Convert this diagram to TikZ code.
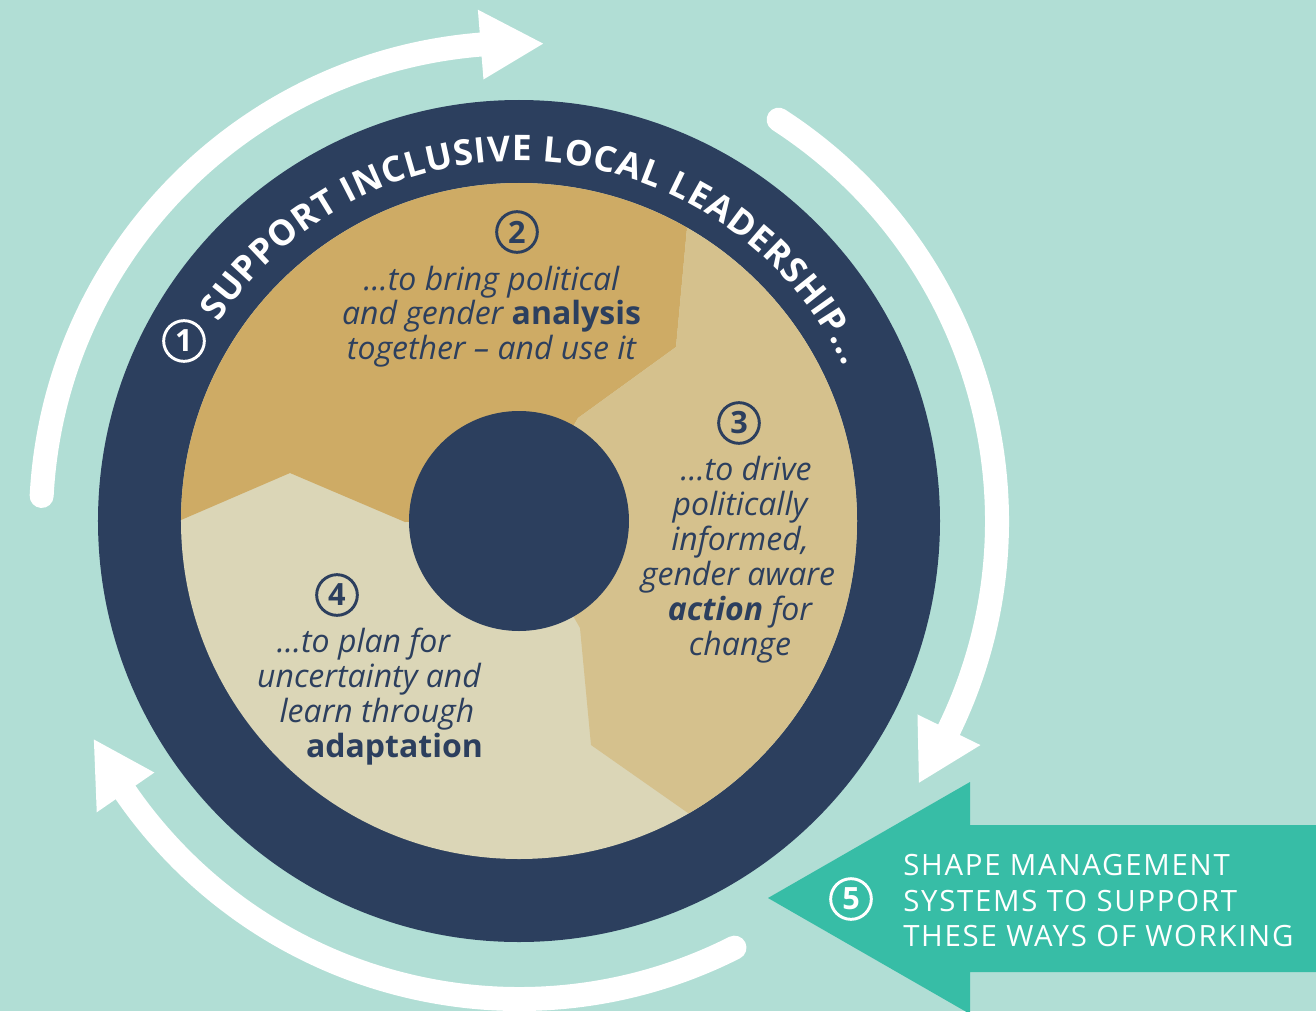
\documentclass[tikz,border=0pt]{standalone}
\usepackage{fontspec}
\setmainfont{Open Sans}
\usetikzlibrary{decorations.text}
\definecolor{bgteal}{HTML}{B1DED5}
\definecolor{navy}{HTML}{2C3F5E}
\definecolor{tanDark}{HTML}{CEAB65}
\definecolor{tanMid}{HTML}{D5C18D}
\definecolor{tanLight}{HTML}{DBD6B7}
\definecolor{mgmtTeal}{HTML}{37BDA6}
\begin{document}
\begin{tikzpicture}[x=0.75pt,y=0.75pt,
  loop/.style={white,line width=18pt,line cap=round},
  num/.style={circle,draw,line width=2.2pt,inner sep=0pt,minimum size=30.5pt,font=\bfseries\fontsize{23}{23}\selectfont},
  blurb/.style={navy,anchor=base,inner sep=0pt,font=\itshape\fontsize{24}{26}\selectfont}]
  \useasboundingbox (-519,-490) rectangle (797,521);
  \fill[bgteal] (-519,-490) rectangle (797,521);
  \coordinate (c) at (0,0);
  \foreach \a/\b/\t in {177/94.6/87.1, 57.1/-25.9/-33.2, -63.2/-145.4/-152.8} {
    \draw[loop] (\a:478) arc[start angle=\a, end angle=\b-1, radius=478];
    \fill[white] (\b:443) -- (\b:513) -- (\t:478) -- cycle;
  }
  \fill[navy] (c) circle[radius=421];
  \fill[tanLight] (c) circle[radius=338];
  \coordinate (w1) at (-229,48);
  \coordinate (w2) at (-114,-1);
  \coordinate (e1) at (59,103);
  \coordinate (e2) at (157,174);
  \coordinate (e3) at (168,293);
  \coordinate (s1) at (61,-107);
  \coordinate (s2) at (72,-224);
  \coordinate (s3) at (169,-292);
  \begin{scope}
    \clip (c) circle[radius=338];
    \fill[tanDark] (-382,-18) -- (w1) -- (w2) -- (c) -- (e1) -- (e2) -- (e3) -- (175,360) -- (-400,360) -- (-400,-18) -- cycle;
    \fill[tanMid] (c) -- (e1) -- (e2) -- (e3) -- (175,360) -- (400,360) -- (400,-326) -- (218,-326) -- (s3) -- (s2) -- (s1) -- cycle;
  \end{scope}
  \fill[navy] (c) circle[radius=110];
  \path[decorate,decoration={text along path,text align=fit to path,text color=white,
    text={|\bfseries\fontsize{26.5}{26.5}\selectfont|SUPPORT INCLUSIVE LOCAL LEADERSHIP...}}]
    (146.5:360) arc[start angle=146.5, end angle=25.5, radius=360];
  \node[num,white] (n1) at (-335,180) {1};
  \node[num,navy] (n2) at (-2,289) {2};
  \node[num,navy] (n3) at (220,98) {3};
  \node[num,navy] (n4) at (-182,-74) {4};
  \foreach \x/\y/\txt [count=\i] in {
    -27.5/231/{…to bring political},
    -27.5/197/{and gender \textbf{\upshape analysis}},
    -27.5/162/{together – and use it},
    227/41/{…to drive},
    221/6/{politically},
    221/-29/{informed,},
    219/-64/{gender aware},
    221/-99/{\textbf{action} for},
    221/-134/{change},
    -155.5/-131/{…to plan for},
    -150/-166/{uncertainty and},
    -142/-201/{learn through},
    -124.5/-236/{\textbf{\upshape adaptation}}} {
    \node[blurb] (line\i) at (\x,\y) {\txt};
  }
  \fill[mgmtTeal] (249,-377) -- (451,-261) -- (451,-304) -- (797,-304) -- (797,-451) -- (451,-451) -- (451,-493) -- cycle;
  \node[num,white,font=\fontsize{23}{23}\selectfont\bfseries] (n5) at (332,-378) {5};
  \foreach \y/\txt [count=\i] in {-354/SHAPE MANAGEMENT, -390/SYSTEMS TO SUPPORT, -425/THESE WAYS OF WORKING} {
    \node[white,anchor=base west,inner sep=0pt,font=\fontsize{22}{22}\selectfont\addfontfeatures{LetterSpace=6}] (mgmt\i) at (384,\y) {\txt};
  }
\end{tikzpicture}
\end{document}
